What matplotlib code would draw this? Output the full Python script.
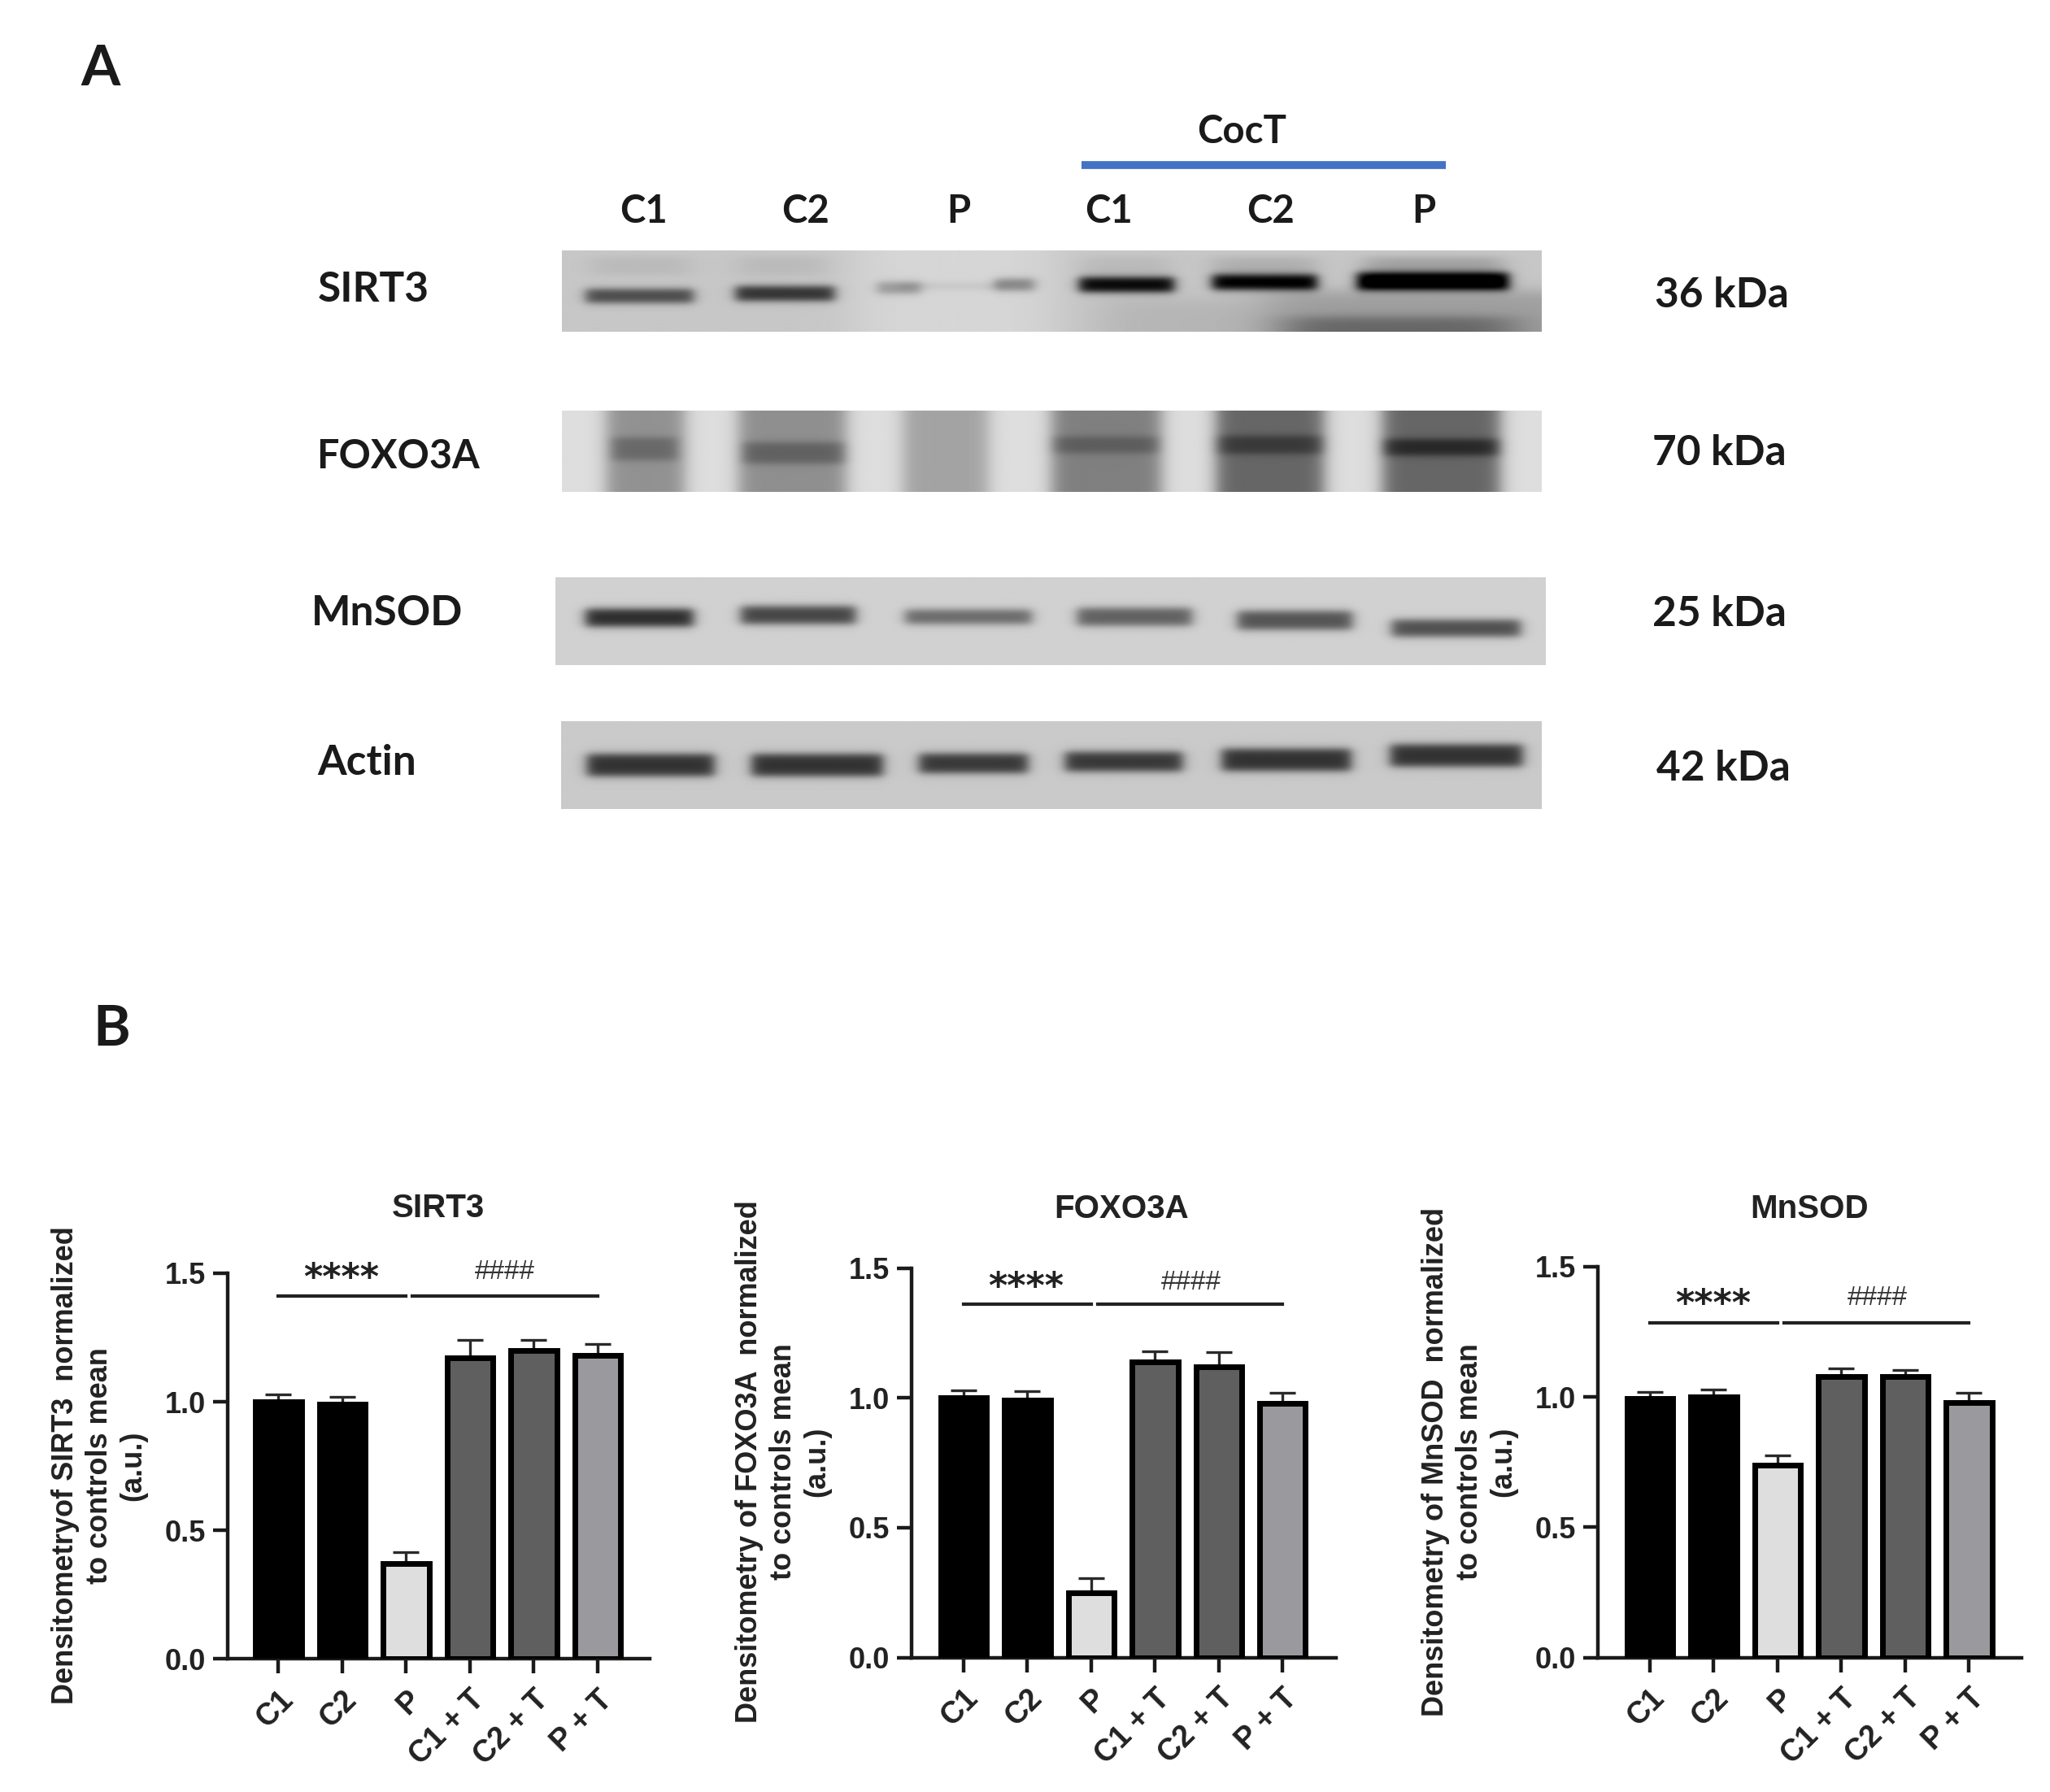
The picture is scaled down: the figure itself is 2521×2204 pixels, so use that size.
import numpy as np
import matplotlib
matplotlib.use("Agg")
import matplotlib.pyplot as plt

S = 2521 / 1568
W, H = 2521, 2204
BAR_FONT = "Liberation Sans"
BLOT_FONT = "Lato"

# ---------- data ----------
groups = ["C1", "C2", "P", "C1 + T", "C2 + T", "P + T"]
bar_colors = ["#000000", "#000000", "#dedede", "#5f5f5f", "#5f5f5f", "#9a9a9e"]

sirt3_mean = [1.00, 0.99, 0.37, 1.17, 1.20, 1.18]
sirt3_err = [0.03, 0.03, 0.045, 0.07, 0.04, 0.045]
foxo3a_mean = [1.00, 0.99, 0.25, 1.14, 1.12, 0.98]
foxo3a_err = [0.03, 0.035, 0.055, 0.04, 0.055, 0.04]
mnsod_mean = [0.995, 1.00, 0.74, 1.08, 1.08, 0.98]
mnsod_err = [0.025, 0.03, 0.035, 0.03, 0.025, 0.035]

lane_labels = ["C1", "C2", "P", "C1", "C2", "P"]
blot_names = ["SIRT3", "FOXO3A", "MnSOD", "Actin"]
blot_sizes = ["36 kDa", "70 kDa", "25 kDa", "42 kDa"]

# band tuples: x0, x1, y, half-thickness, darkness (fractions of the strip)
sirt3_bands = [(.024, .134, .56, .085, .50), (.177, .278, .53, .09, .60),
               (.322, .366, .46, .07, .25), (.345, .450, .44, .035, .08),
               (.442, .482, .42, .07, .33), (.528, .625, .42, .09, .78),
               (.664, .771, .39, .09, .82), (.812, .967, .38, .105, .90)]
foxo3a_bands = [(.050, .118, .47, .14, .16), (.184, .289, .52, .13, .18),
                (.500, .610, .42, .10, .14), (.668, .778, .42, .11, .18),
                (.838, .958, .45, .10, .25)]
mnsod_bands = [(.030, .139, .46, .10, .66), (.187, .303, .43, .10, .56),
               (.353, .481, .45, .08, .42), (.527, .643, .45, .10, .45),
               (.689, .805, .49, .105, .50), (.845, .975, .58, .095, .52)]
actin_bands = [(.026, .156, .50, .125, .60), (.194, .328, .50, .125, .60),
               (.365, .476, .48, .11, .58), (.514, .634, .46, .11, .58),
               (.674, .806, .44, .125, .60), (.846, .981, .39, .125, .60)]
# smears: x0, x1, darkness
foxo3a_smears = [(.045, .125, .30), (.180, .290, .31), (.348, .435, .23),
                 (.500, .612, .37), (.668, .778, .47), (.838, .958, .47)]
sirt3_faint = [(.030, .130, .05), (.180, .270, .05), (.530, .620, .05),
               (.665, .770, .09), (.820, .960, .14)]


def box(u, a, b, e):
    return 0.5 * (np.tanh((u - a) / e) - np.tanh((u - b) / e))


def strip(bands, base, nx=900, ny=140, smears=(), faint=(), xedge=.007, yedge=.05):
    xs = np.linspace(0, 1, nx)
    ys = np.linspace(0, 1, ny)
    X, Y = np.meshgrid(xs, ys)
    img = np.zeros_like(X)
    for a, b, d in smears:
        img += d * box(X, a, b, .010)
    for a, b, d in faint:
        img += d * box(X, a, b, .015) * box(Y, .08, .30, .05)
    for a, b, y, t, d in bands:
        img += d * box(X, a, b, xedge) * box(Y, y - t, y + t, yedge)
    return np.clip(base - img, 0, 1)


fig = plt.figure(figsize=(W / 100, H / 100), dpi=100, facecolor="white")
over = fig.add_axes([0, 0, 1, 1])
over.set_xlim(0, W)
over.set_ylim(H, 0)
over.axis("off")


def put_strip(img, x0, x1, y0, y1):
    over.imshow(img, extent=(x0 * S, x1 * S, y1 * S, y0 * S), cmap="gray", vmin=0, vmax=1,
                aspect="auto", interpolation="bilinear", zorder=1)


img1 = strip(sirt3_bands, .78, faint=sirt3_faint)
ny, nx = img1.shape
X1, Y1 = np.meshgrid(np.linspace(0, 1, nx), np.linspace(0, 1, ny))
img1 -= .22 * box(X1, .74, .97, .03) * box(Y1, .82, 1.2, .07)
img1 -= .16 * box(X1, .72, 1.05, .03) * box(Y1, .50, 1.2, .10)
img1 -= .07 * box(X1, .55, .72, .03) * box(Y1, .60, 1.2, .12)
img1 += .06 * box(X1, .30, .50, .03)
put_strip(np.clip(img1, 0, 1), 430, 1179, 192, 254)
put_strip(strip(foxo3a_bands, .87, smears=foxo3a_smears), 430, 1179, 314, 376)
put_strip(strip(mnsod_bands, .82), 425, 1182, 442, 509)
put_strip(strip(actin_bands, .79), 429, 1179, 552, 619)
over.set_xlim(0, W)
over.set_ylim(H, 0)


def blot_text(x, y, s, size=37, ha="left"):
    over.text(x * S, y * S, s, fontsize=size, fontweight="bold", family=BLOT_FONT,
              ha=ha, va="center", color="#1a1a1a", zorder=3)


blot_text(62, 53, "A", 50)
blot_text(71, 788, "B", 50)
blot_text(950, 101, "CocT", ha="center", size=34)
over.plot([827 * S, 1106 * S], [126 * S, 126 * S], color="#4472c4", lw=7, solid_capstyle="butt", zorder=3)
for xp, lab in zip([492, 616, 733, 848, 972, 1089], lane_labels):
    blot_text(xp, 162, lab, ha="center", size=34)
for (xp, yp), name, sz in zip([(243, 222), (242, 349), (238, 469), (243, 584)], blot_names, [37, 35, 37, 37]):
    blot_text(xp, yp, name, size=sz)
for (xp, yp), size in zip([(1266, 226), (1264, 347), (1264, 470), (1267, 588)], blot_sizes):
    blot_text(xp, yp, size)

panels = [
    dict(title="SIRT3", mean=sirt3_mean, err=sirt3_err, box=(174, 497, 974, 1269), bar0=213, title_xy=(335, 924),
         ylab="Densitometryof SIRT3  normalized\nto controls mean\n(a.u.)", ylab_xy=(76, 1121),
         line=1.41, star=(261, 978), hash=(386, 973)),
    dict(title="FOXO3A", mean=foxo3a_mean, err=foxo3a_err, box=(697, 1022, 970, 1268), bar0=737, title_xy=(858, 925),
         ylab="Densitometry of FOXO3A  normalized\nto controls mean\n(a.u.)", ylab_xy=(599, 1118),
         line=1.36, star=(785, 985), hash=(911, 981)),
    dict(title="MnSOD", mean=mnsod_mean, err=mnsod_err, box=(1222, 1546, 969, 1268), bar0=1262, title_xy=(1384, 925),
         ylab="Densitometry of MnSOD  normalized\nto controls mean\n(a.u.)", ylab_xy=(1124, 1118),
         line=1.284, star=(1310, 998), hash=(1436, 993)),
]

SPACING = 48.8
for p in panels:
    xl, xr, yt, yb = p["box"]
    ax = fig.add_axes([xl * S / W, 1 - yb * S / H, (xr - xl) * S / W, (yb - yt) * S / H])
    ax.patch.set_alpha(0)
    pos = np.arange(len(groups))
    ax.errorbar(pos, p["mean"], yerr=[np.zeros(6), p["err"]], fmt="none", ecolor="#2a2a2a",
                elinewidth=2.4, capsize=11.5, capthick=2.4, zorder=2)
    ax.bar(pos, p["mean"], width=0.72, color=bar_colors, edgecolor="black", linewidth=5, zorder=3)
    ax.set_xlim((xl - p["bar0"]) / SPACING, (xr - p["bar0"]) / SPACING)
    ax.set_ylim(0, 1.5)
    ax.set_yticks([0, .5, 1, 1.5], ["0.0", "0.5", "1.0", "1.5"])
    ax.set_xticks(pos, groups)
    for sp in ("top", "right"):
        ax.spines[sp].set_visible(False)
    for sp in ("left", "bottom"):
        ax.spines[sp].set_linewidth(3.2)
        ax.spines[sp].set_color("#1a1a1a")
    ax.tick_params(axis="y", length=13, width=3.2, color="#1a1a1a", labelcolor="#222222", pad=6)
    ax.tick_params(axis="x", length=13, width=3.2, color="#1a1a1a", labelcolor="#222222", pad=10)
    for t in ax.get_yticklabels():
        t.set(fontsize=26, fontweight="bold", family=BAR_FONT)
    for t in ax.get_xticklabels():
        t.set(fontsize=27, fontweight="bold", family=BAR_FONT, rotation=45, ha="right", rotation_mode="anchor")
    ax.plot([0, 2.0], [p["line"]] * 2, color="#222222", lw=3, clip_on=False, zorder=4)
    ax.plot([2.1, 5.0], [p["line"]] * 2, color="#222222", lw=3, clip_on=False, zorder=4)
    over.text(p["title_xy"][0] * S, p["title_xy"][1] * S, p["title"], fontsize=29, fontweight="bold",
              family=BAR_FONT, ha="center", va="center", color="#222222")
    over.text(p["ylab_xy"][0] * S, p["ylab_xy"][1] * S, p["ylab"], fontsize=26, fontweight="bold",
              family=BAR_FONT, ha="center", va="center", rotation=90, multialignment="center",
              color="#222222", linespacing=1.23)
    over.text(p["star"][0] * S, p["star"][1] * S, "****", fontsize=32, fontweight="bold",
              family="DejaVu Sans", ha="center", va="center", color="#222222")
    over.text(p["hash"][0] * S, p["hash"][1] * S, "####", fontsize=24,
              family=BAR_FONT, ha="center", va="center", color="#333333")

fig.savefig("out.png", dpi=100, facecolor="white")
